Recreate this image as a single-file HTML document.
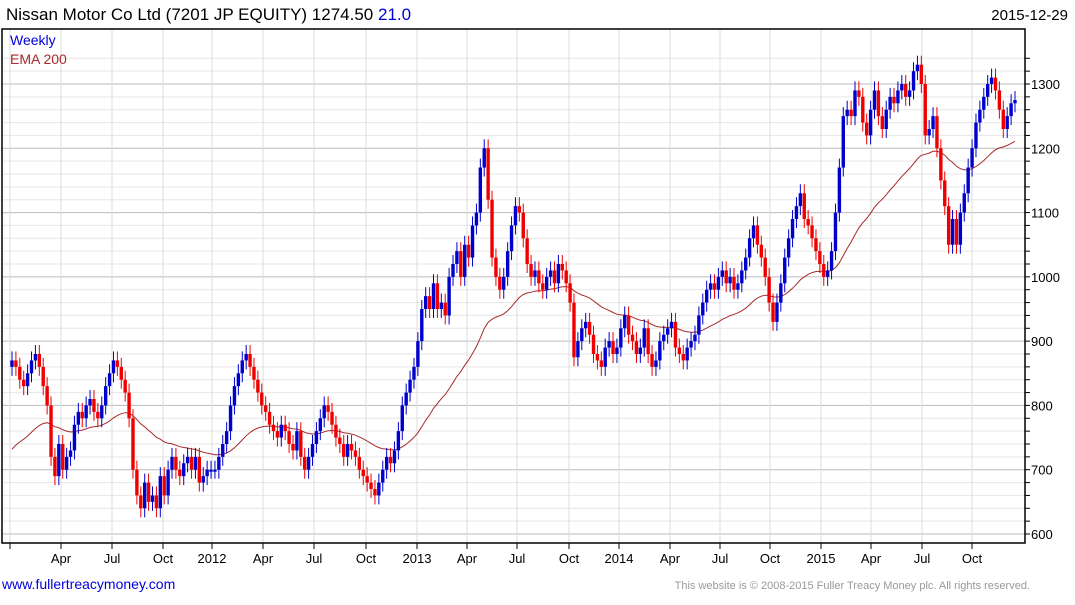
<!DOCTYPE html>
<html><head><meta charset="utf-8">
<style>
body{margin:0;background:#fff;width:1075px;height:600px;overflow:hidden;font-family:"Liberation Sans",Arial,sans-serif;}
svg text{font-family:"Liberation Sans",Arial,sans-serif;}
</style></head>
<body>
<svg id="chart" width="1075" height="600" xmlns="http://www.w3.org/2000/svg">
<text x="6" y="20" font-size="17" fill="#000">Nissan Motor Co Ltd (7201 JP EQUITY) 1274.50 <tspan fill="#0000dd">21.0</tspan></text>
<text x="1068" y="20" font-size="15" text-anchor="end" fill="#000">2015-12-29</text>
<g id="grid"></g>
<g id="ema"></g>
<g id="candles"></g>
<rect x="2" y="29" width="1023" height="514" fill="none" stroke="#000" stroke-width="1.5"/>
<g id="axes"></g>
<text x="10" y="45" font-size="14" fill="#0000dd">Weekly</text>
<text x="10" y="64" font-size="14" fill="#a52a2a">EMA 200</text>
<text x="2" y="589" font-size="14" fill="#0000dd">www.fullertreacymoney.com</text>
<text x="1030" y="589" font-size="11" text-anchor="end" fill="#999">This website is © 2008-2015 Fuller Treacy Money plc. All rights reserved.</text>
</svg>
<script>
const closes = [
870,860,840,830,850,870,880,860,830,800,720,690,740,700,720,730,770,790,780,800,810,790,780,800,830,850,870,860,840,820,780,700,660,640,680,650,660,640,690,660,700,720,700,690,710,720,700,720,680,690,700,700,
700,720,740,760,800,830,850,870,880,860,840,820,800,790,770,760,750,770,760,740,730,760,720,700,720,740,760,780,800,790,770,750,740,720,740,730,720,700,690,680,670,660,680,700,720,710,730,760,800,820,840,860,
900,950,970,950,990,950,960,940,1000,1020,1040,1000,1050,1030,1080,1100,1170,1200,1120,1030,1000,980,1000,1040,1080,1110,1100,1060,1020,1000,1010,990,980,1000,1010,990,1020,1010,990,960,875,900,920,930,910,880,870,860,890,900,880,890,
920,940,910,900,880,890,920,880,860,870,900,910,920,930,890,880,870,890,900,910,940,960,980,990,980,1000,1010,990,1000,980,990,1010,1030,1060,1080,1050,1030,1000,960,930,960,990,1030,1060,1090,1110,1130,1090,1080,1060,1040,1020,
1000,1010,1040,1100,1170,1250,1260,1250,1290,1280,1240,1220,1260,1290,1250,1230,1260,1280,1270,1290,1300,1280,1290,1320,1330,1300,1220,1230,1250,1200,1150,1110,1050,1090,1050,1100,1130,1170,1200,1240,1260,1280,1300,1310,1290,1260,1230,1250,1270,1275];
const yTicks = [600,700,800,900,1000,1100,1200,1300];
const xTickLabels = ["","Apr","Jul","Oct","2012","Apr","Jul","Oct","2013","Apr","Jul","Oct","2014","Apr","Jul","Oct","2015","Apr","Jul","Oct"];
const xTickPos = [10,61,112,163,212,263,314,366,417,467,517,569,619,670,720,770,821,871,922,972];
const emaSeed = 725;

const NS="http://www.w3.org/2000/svg";
function mk(tag,attrs,parent){const e=document.createElementNS(NS,tag);for(const k in attrs)e.setAttribute(k,attrs[k]);parent.appendChild(e);return e;}
const y = v => 534 - (v-600)*(450/700);
const N = closes.length;
const x = i => 12 + i*(1003/(N-1));
const grid=document.getElementById('grid'), axes=document.getElementById('axes');
for(let v=600; v<=1340; v+=20){
  const major = v%100===0;
  const l=mk('line',{x1:2,x2:1025,y1:y(v),y2:y(v),stroke:major?'#bbb':'#e6e6e6','stroke-width':1},grid);
  
  
  const t=mk('line',{x1:1025,x2:1030,y1:y(v),y2:y(v),stroke:'#000'},axes);
  
  
}
yTicks.forEach(v=>{
  const t=mk('text',{x:1031,y:y(v)+5,'font-size':13,fill:'#000'},axes);t.textContent=v;
  
  
});
xTickPos.forEach((p,i)=>{
  const g=mk('line',{x1:p,x2:p,y1:29,y2:543,stroke:'#ddd'},grid);
  
  
  const t=mk('line',{x1:p,x2:p,y1:543,y2:549,stroke:'#000'},axes);
  
  
  if(xTickLabels[i]){const tx=mk('text',{x:p,y:563,'font-size':13,'text-anchor':'middle',fill:'#000'},axes);tx.textContent=xTickLabels[i];
  
  }
});
let e=emaSeed, pts=[];
const a=2/41;
closes.forEach((c,i)=>{e=e+a*(c-e);pts.push(x(i).toFixed(1)+','+y(e).toFixed(1));});
const pl=mk('polyline',{points:pts.join(' '),fill:'none',stroke:'#a52a2a','stroke-width':1},document.getElementById('ema'));


const cg=document.getElementById('candles');
closes.forEach((c,i)=>{
  const o = i===0 ? c-10 : closes[i-1];
  const col = c>=o ? '#0000cc' : '#ee0000';
  const hi=Math.max(o,c)+14, lo=Math.min(o,c)-14;
  const w=mk('line',{x1:x(i),x2:x(i),y1:y(hi),y2:y(lo),stroke:col,'stroke-width':1},cg);
  
  
  const top=y(Math.max(o,c)), h=Math.max(2,Math.abs(y(o)-y(c)));
  const b=mk('rect',{x:x(i)-1.7,y:top,width:3.4,height:h,fill:col},cg);
  
  
});
</script>
</body></html>
